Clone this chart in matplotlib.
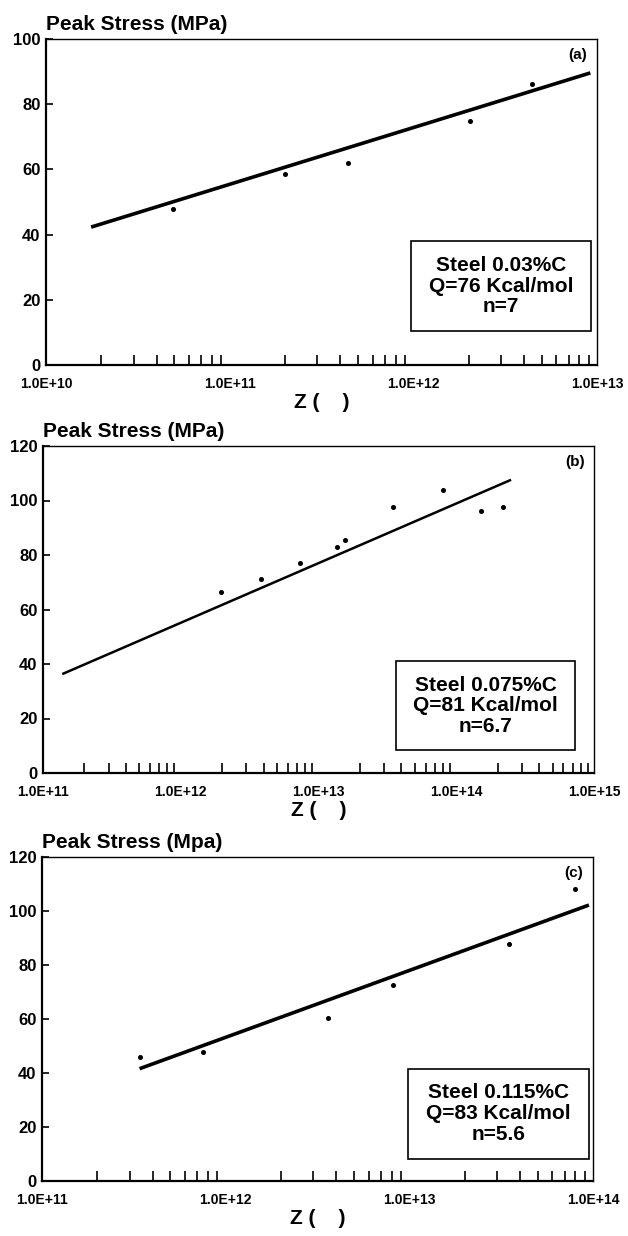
import matplotlib
matplotlib.use("Agg")
import matplotlib.pyplot as plt
from matplotlib.patches import Rectangle
from matplotlib.ticker import LogLocator, NullFormatter, FixedLocator, FixedFormatter

plt.rcParams['font.family'] = ['Liberation Sans', 'DejaVu Sans']
plt.rcParams['font.weight'] = 'bold'

# --- panel (a): steel 0.03%C ---
a_z = [4.9e10, 2.0e11, 4.4e11, 2.03e12, 4.4e12]
a_stress = [47.8, 58.5, 62.1, 74.8, 86.2]
a_fit_z = [1.76e10, 9.2e12]
a_fit_stress = [42.3, 89.6]

# --- panel (b): steel 0.075%C ---
b_z = [1.96e12, 3.8e12, 7.3e12, 1.37e13, 1.57e13, 3.46e13, 8.0e13, 1.5e14, 2.18e14]
b_stress = [66.3, 71.1, 76.9, 83.1, 85.6, 97.6, 103.7, 96.2, 97.6]
b_fit_z = [1.38e11, 2.5e14]
b_fit_stress = [36.3, 107.6]

# --- panel (c): steel 0.115%C ---
c_z = [3.4e11, 7.5e11, 3.6e12, 8.1e12, 3.5e13, 8.0e13]
c_stress = [45.9, 47.9, 60.2, 72.6, 87.6, 108.0]
c_fit_z = [3.4e11, 9.5e13]
c_fit_stress = [41.6, 102.2]

panels = [
    dict(z=a_z, s=a_stress, fz=a_fit_z, fs=a_fit_stress, xlim=(1e10, 1e13),
         xt=[1e10, 1e11, 1e12, 1e13], xl=['1.0E+10', '1.0E+11', '1.0E+12', '1.0E+13'],
         ylim=(0, 100), ylab='Peak Stress (MPa)', tag='(a)', lw=2.6,
         box='Steel 0.03%C\nQ=76 Kcal/mol\nn=7', boxrect=(0.662, 0.104, 0.327, 0.276),
         rect=(46, 39, 597, 365)),
    dict(z=b_z, s=b_stress, fz=b_fit_z, fs=b_fit_stress, xlim=(1e11, 1e15),
         xt=[1e11, 1e12, 1e13, 1e14, 1e15], xl=['1.0E+11', '1.0E+12', '1.0E+13', '1.0E+14', '1.0E+15'],
         ylim=(0, 120), ylab='Peak Stress (MPa)', tag='(b)', lw=1.8,
         box='Steel 0.075%C\nQ=81 Kcal/mol\nn=6.7', boxrect=(0.641, 0.069, 0.325, 0.272),
         rect=(43, 446, 594, 773)),
    dict(z=c_z, s=c_stress, fz=c_fit_z, fs=c_fit_stress, xlim=(1e11, 1e14),
         xt=[1e11, 1e12, 1e13, 1e14], xl=['1.0E+11', '1.0E+12', '1.0E+13', '1.0E+14'],
         ylim=(0, 120), ylab='Peak Stress (Mpa)', tag='(c)', lw=2.6,
         box='Steel 0.115%C\nQ=83 Kcal/mol\nn=5.6', boxrect=(0.664, 0.069, 0.329, 0.278),
         rect=(42, 857, 593, 1181)),
]

W, H = 628, 1236
fig = plt.figure(figsize=(W / 100, H / 100), dpi=100)

for p in panels:
    x0, y0, x1, y1 = p['rect']
    ax_h = y1 - y0
    ax = fig.add_axes([x0 / W, 1 - y1 / H, (x1 - x0) / W, ax_h / H])
    ax.set_xscale('log')
    ax.plot(p['fz'], p['fs'], color='black', lw=p['lw'], solid_capstyle='butt')
    ax.plot(p['z'], p['s'], 'o', color='black', ms=2.6)
    ax.set_xlim(*p['xlim'])
    ax.set_ylim(*p['ylim'])

    ax.xaxis.set_major_locator(FixedLocator(p['xt']))
    ax.xaxis.set_major_formatter(FixedFormatter(p['xl']))
    ax.xaxis.set_minor_locator(LogLocator(base=10, subs=range(2, 10)))
    ax.xaxis.set_minor_formatter(NullFormatter())
    ax.set_yticks(range(0, p['ylim'][1] + 1, 20))

    ax.tick_params(axis='both', which='both', direction='in', width=1.2)
    ax.tick_params(axis='x', which='major', length=0, pad=9, labelsize=10)
    ax.tick_params(axis='x', which='minor', length=7)
    ax.tick_params(axis='y', which='major', length=5, pad=4, labelsize=12)
    for lbl in ax.get_xticklabels() + ax.get_yticklabels():
        lbl.set_fontweight('bold')

    ax.spines['left'].set_linewidth(1.6)
    ax.spines['bottom'].set_linewidth(1.6)
    ax.spines['top'].set_linewidth(1.0)
    ax.spines['right'].set_linewidth(1.0)

    ax.text(0.0, 1 + 9 / ax_h, p['ylab'], transform=ax.transAxes, ha='left', va='baseline',
            fontsize=15, fontweight='bold')
    ax.text(0.965, 0.95, p['tag'], transform=ax.transAxes, ha='center', va='center',
            fontsize=11, fontweight='bold')

    bx, by, bw, bh = p['boxrect']
    ax.add_patch(Rectangle((bx, by), bw, bh, transform=ax.transAxes, facecolor='white',
                           edgecolor='black', lw=1.2, zorder=3))
    ax.text(bx + bw / 2, by + bh / 2, p['box'], transform=ax.transAxes,
            ha='center', va='center', fontsize=15, fontweight='bold', linespacing=1.12, zorder=4)
    ax.set_xlabel('Z (    )', fontsize=15, fontweight='bold', labelpad=1)

fig.savefig('out.png', dpi=100)
